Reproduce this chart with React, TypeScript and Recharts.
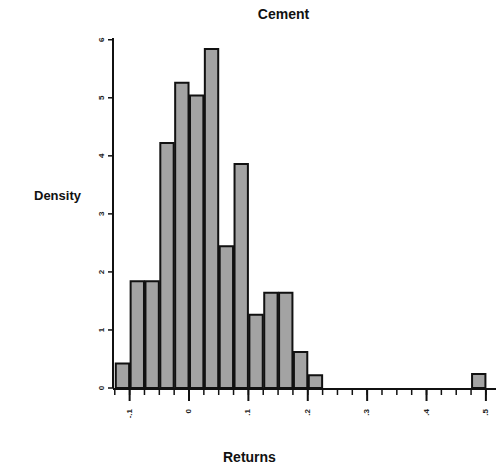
import React from "react";
import { ComposedChart, Bar, XAxis, YAxis } from "recharts";

// Histogram bins: left edge of each bin and its density
const binWidth = 0.025;
const binStarts = [-0.125, -0.1, -0.075, -0.05, -0.025, 0, 0.025, 0.05, 0.075, 0.1, 0.125, 0.15, 0.175, 0.2, 0.475];
const densities = [0.42, 1.84, 1.84, 4.22, 5.26, 5.04, 5.84, 2.44, 3.86, 1.26, 1.64, 1.64, 0.62, 0.22, 0.24];

const xMajorTicks = [-0.1, 0, 0.1, 0.2, 0.3, 0.4, 0.5];
const xTickLabels = ["-.1", "0", ".1", ".2", ".3", ".4", ".5"];
const yTicks = [0, 1, 2, 3, 4, 5, 6];

const xDomain: [number, number] = [-0.128, 0.517];
const yDomain: [number, number] = [0, 6.03];

const data = binStarts.map((s, i) => ({ mid: s + binWidth / 2, density: densities[i] }));

// Minor ticks, one per bin width across the axis
const xMinorTicks: number[] = [];
for (let k = -5; k <= 20; k++) xMinorTicks.push(Math.round(k * binWidth * 1000) / 1000);

const W = 497;
const H = 473;
const margin = { top: 38, right: 1, left: 93, bottom: 55 };
const yAxisWidth = 20;
const plotWidth = W - margin.left - yAxisWidth - margin.right;
const barPx = (plotWidth * binWidth) / (xDomain[1] - xDomain[0]);

const labelFont = "'Liberation Sans', Arial, sans-serif";

const NoLabel = () => <g />;

const XTick = (props: any) => {
  const { x, y, payload } = props;
  const idx = xMajorTicks.indexOf(payload.value);
  return (
    <text
      x={x}
      y={y + 6}
      transform={`rotate(-90 ${x} ${y + 6})`}
      textAnchor="end"
      dominantBaseline="middle"
      fontSize={8}
      fontWeight="bold"
      fontFamily={labelFont}
      fill="#222"
    >
      {idx >= 0 ? xTickLabels[idx] : ""}
    </text>
  );
};

const YTick = (props: any) => {
  const { x, y, payload } = props;
  return (
    <text
      x={x - 2}
      y={y}
      transform={`rotate(-90 ${x - 2} ${y})`}
      textAnchor="middle"
      fontSize={8}
      fontWeight="bold"
      fontFamily={labelFont}
      fill="#222"
    >
      {payload.value}
    </text>
  );
};

export default function App() {
  return (
    <div style={{ position: "absolute", left: 0, top: 0, width: W, height: H, background: "#fff" }}>
      <ComposedChart width={W} height={H} data={data} margin={margin}>
        <XAxis
          xAxisId="a"
          dataKey="mid"
          type="number"
          domain={xDomain}
          ticks={xMinorTicks}
          interval={0}
          allowDataOverflow
          tick={<NoLabel />}
          tickSize={7}
          tickLine={{ stroke: "#111", strokeWidth: 1.5 }}
          axisLine={false}
          height={1}
        />
        <XAxis
          xAxisId="b"
          dataKey="mid"
          type="number"
          domain={xDomain}
          ticks={xMajorTicks}
          interval={0}
          allowDataOverflow
          tick={<XTick />}
          tickSize={12}
          tickLine={{ stroke: "#111", strokeWidth: 2 }}
          axisLine={{ stroke: "#111", strokeWidth: 2 }}
          height={29}
        />
        <XAxis
          xAxisId="top"
          orientation="top"
          dataKey="mid"
          type="number"
          domain={xDomain}
          tick={false}
          tickLine={false}
          axisLine={{ stroke: "#111", strokeWidth: 1.5 }}
          height={0}
        />
        <YAxis
          yAxisId="main"
          type="number"
          domain={yDomain}
          ticks={yTicks}
          interval={0}
          allowDataOverflow
          tick={<YTick />}
          tickSize={5}
          tickLine={{ stroke: "#111", strokeWidth: 1.5 }}
          axisLine={{ stroke: "#111", strokeWidth: 2 }}
          width={yAxisWidth}
        />
        <YAxis
          yAxisId="right"
          orientation="right"
          type="number"
          domain={yDomain}
          tick={false}
          tickLine={false}
          axisLine={{ stroke: "#333", strokeWidth: 1 }}
          width={0}
        />
        <Bar
          xAxisId="b"
          yAxisId="main"
          dataKey="density"
          barSize={barPx}
          fill="#a3a3a3"
          stroke="#111"
          strokeWidth={2}
          isAnimationActive={false}
        />
      </ComposedChart>
      <div
        style={{
          position: "absolute",
          left: 0,
          width: W,
          top: 6,
          paddingLeft: 70,
          boxSizing: "border-box",
          textAlign: "center",
          fontFamily: labelFont,
          fontWeight: "bold",
          fontSize: 14,
          color: "#111",
        }}
      >
        Cement
      </div>
      <div
        style={{
          position: "absolute",
          left: 34,
          top: 188,
          fontFamily: labelFont,
          fontWeight: "bold",
          fontSize: 13,
          color: "#111",
        }}
      >
        Density
      </div>
      <div
        style={{
          position: "absolute",
          left: 223,
          top: 449,
          fontFamily: labelFont,
          fontWeight: "bold",
          fontSize: 14,
          color: "#111",
        }}
      >
        Returns
      </div>
    </div>
  );
}
